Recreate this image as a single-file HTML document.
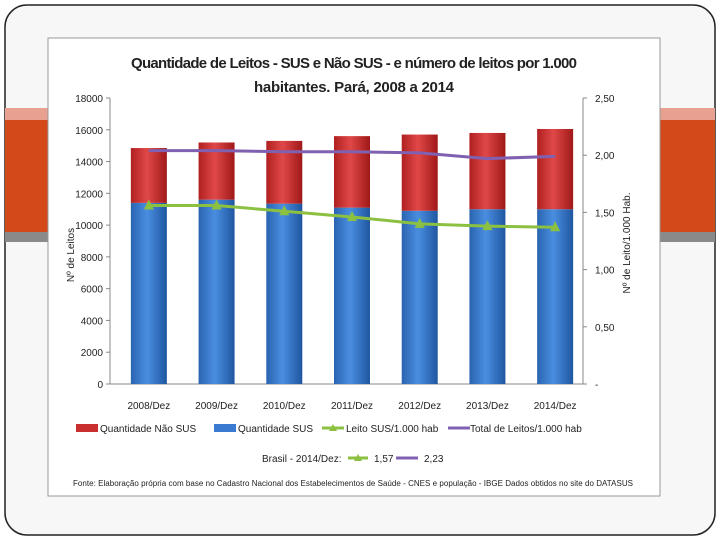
<!DOCTYPE html>
<html><head><meta charset="utf-8"><style>
body{margin:0;width:720px;height:540px;background:#fff;overflow:hidden;font-family:"Liberation Sans",sans-serif}
</style></head><body>
<svg width="720" height="540">
<defs>
<linearGradient id="gr" x1="0" x2="1"><stop offset="0" stop-color="#b02020"/><stop offset=".45" stop-color="#e04848"/><stop offset="1" stop-color="#a01818"/></linearGradient>
<linearGradient id="gb" x1="0" x2="1"><stop offset="0" stop-color="#2a64b0"/><stop offset=".45" stop-color="#4a8ee0"/><stop offset="1" stop-color="#1f56a0"/></linearGradient>
</defs>
<rect x="5" y="5" width="710" height="530" rx="22" fill="#f7f7f7" stroke="#222" stroke-width="1.5"/>
<rect x="5" y="108" width="710" height="12" fill="#e8a090"/>
<rect x="5" y="120" width="710" height="112" fill="#d4491a"/>
<rect x="5" y="232" width="710" height="10" fill="#8a8a8a"/>
<rect x="48" y="38" width="612" height="458" fill="#fff" stroke="#999"/>
<text x="354" y="68" text-anchor="middle" font-size="15" font-weight="bold" fill="#222" textLength="446">Quantidade de Leitos - SUS e Não SUS - e número de leitos por 1.000</text>
<text x="354" y="92" text-anchor="middle" font-size="15" font-weight="bold" fill="#222" textLength="200">habitantes. Pará, 2008 a 2014</text>
<g id="axes"></g>
<g id="bars"></g>
<g id="lines"></g>
<text transform="translate(74,255) rotate(-90)" text-anchor="middle" font-size="10" fill="#222">Nº de Leitos</text>
<text transform="translate(630,243) rotate(-90)" text-anchor="middle" font-size="10" fill="#222">Nº de Leito/1.000 Hab.</text>
<g font-size="10" fill="#222">
<rect x="76" y="424" width="22" height="8" fill="#c83030"/><text x="100" y="432">Quantidade Não SUS</text>
<rect x="214" y="424" width="22" height="8" fill="#3a7ad0"/><text x="238" y="432">Quantidade SUS</text>
<line x1="322" y1="428" x2="344" y2="428" stroke="#8cc040" stroke-width="3"/><polygon points="333,424 337,431 329,431" fill="#8cc040"/><text x="346" y="432">Leito SUS/1.000 hab</text>
<line x1="448" y1="428" x2="470" y2="428" stroke="#8060b0" stroke-width="3"/><text x="470" y="432">Total de Leitos/1.000 hab</text>
<text x="262" y="462">Brasil - 2014/Dez:</text>
<line x1="348" y1="458" x2="368" y2="458" stroke="#8cc040" stroke-width="3"/><polygon points="358,454 362,461 354,461" fill="#8cc040"/><text x="374" y="462">1,57</text>
<line x1="396" y1="458" x2="418" y2="458" stroke="#8060b0" stroke-width="3"/><text x="424" y="462">2,23</text>
</g>
<text x="353" y="486" text-anchor="middle" font-size="8" fill="#222" textLength="560">Fonte: Elaboração própria com base no Cadastro Nacional dos Estabelecimentos de Saúde - CNES e população - IBGE Dados obtidos no site do DATASUS</text>
</svg>
<script>
const categories=["2008/Dez","2009/Dez","2010/Dez","2011/Dez","2012/Dez","2013/Dez","2014/Dez"];
const susValues=[11400,11600,11350,11100,10900,11000,11000];
const totalValues=[14850,15200,15300,15600,15700,15800,16050];
const leitoSusRate=[1.56,1.56,1.51,1.46,1.40,1.38,1.37];
const totalRate=[2.04,2.04,2.03,2.03,2.02,1.97,1.99];
const leftTicks=[0,2000,4000,6000,8000,10000,12000,14000,16000,18000];
const rightTicks=["0","0,50","1,00","1,50","2,00","2,50"];
const NS="http://www.w3.org/2000/svg";
const x0=115,x1=589,yb=384,yt=98,axL=110,axR=583;
const y=v=>yb-(v/18000)*(yb-yt);
const y2=v=>yb-(v/2.5)*(yb-yt);
const xc=i=>x0+(x1-x0)*(i+0.5)/categories.length;
function mk(p,t,a){const e=document.createElementNS(NS,t);for(const k in a)e.setAttribute(k,a[k]);p.appendChild(e);return e;}
const ax=document.getElementById('axes');
mk(ax,'line',{x1:axL,y1:yt,x2:axL,y2:yb,stroke:'#888'});
mk(ax,'line',{x1:axL,y1:yb,x2:axR,y2:yb,stroke:'#888'});
mk(ax,'line',{x1:axR,y1:yt,x2:axR,y2:yb,stroke:'#888'});
leftTicks.forEach(v=>{mk(ax,'line',{x1:axL-4,y1:y(v),x2:axL,y2:y(v),stroke:'#888'});
const t=mk(ax,'text',{x:axL-7,y:y(v)+4,'text-anchor':'end','font-size':10,fill:'#222'});t.textContent=v;

});
rightTicks.forEach((s,i)=>{const v=i*0.5;mk(ax,'line',{x1:axR,y1:y2(v),x2:axR+4,y2:y2(v),stroke:'#888'});
const t=mk(ax,'text',{x:axR+12,y:y2(v)+4,'font-size':10,fill:'#222'});t.textContent=i==0?'-':s;

});
categories.forEach((c,i)=>{const t=mk(ax,'text',{x:xc(i),y:409,'text-anchor':'middle','font-size':10,fill:'#222'});t.textContent=c;

});
const bg=document.getElementById('bars');const w=36;
categories.forEach((c,i)=>{
const b=mk(bg,'rect',{x:xc(i)-w/2,y:y(susValues[i]),width:w,height:yb-y(susValues[i]),fill:'url(#gb)'});


const r=mk(bg,'rect',{x:xc(i)-w/2,y:y(totalValues[i]),width:w,height:y(susValues[i])-y(totalValues[i]),fill:'url(#gr)'});

});
const lg=document.getElementById('lines');
const p1=mk(lg,'polyline',{points:totalRate.map((v,i)=>xc(i)+','+y2(v)).join(' '),fill:'none',stroke:'#8060b0','stroke-width':3});


const p2=mk(lg,'polyline',{points:leitoSusRate.map((v,i)=>xc(i)+','+y2(v)).join(' '),fill:'none',stroke:'#8cc040','stroke-width':3});


leitoSusRate.forEach((v,i)=>{const m=mk(lg,'polygon',{points:`${xc(i)},${y2(v)-6} ${xc(i)+5},${y2(v)+4} ${xc(i)-5},${y2(v)+4}`,fill:'#8cc040'});

});
</script>
</body></html>
